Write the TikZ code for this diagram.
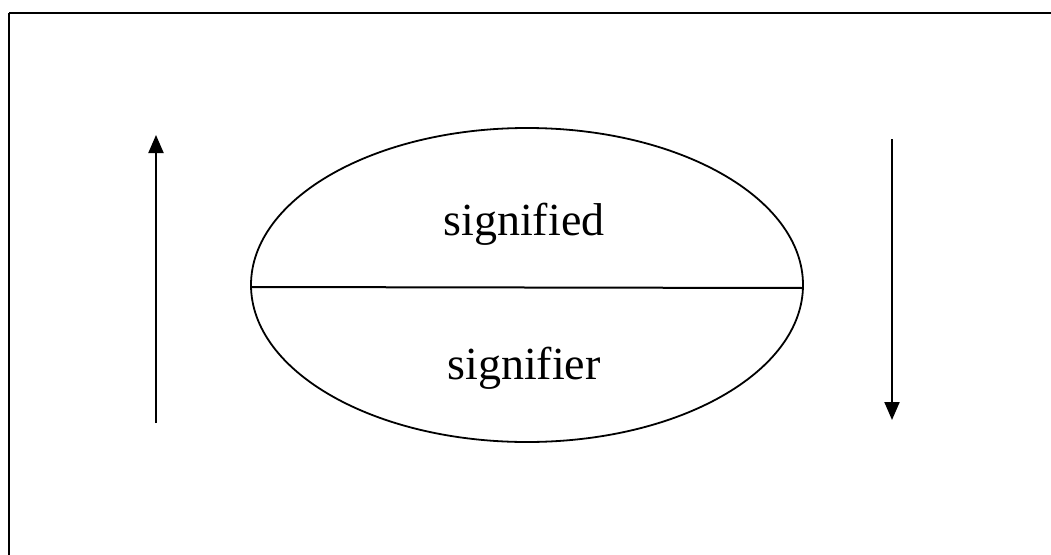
\documentclass[tikz,border=0pt]{standalone}
\usepackage{fontspec}
\setmainfont{Liberation Serif}
\usetikzlibrary{arrows.meta,shapes.geometric}
\tikzset{
  line/.style={draw=black, line width=2pt},
  arr/.style={line, -{Triangle[length=18pt,width=15pt]}},
  lbl/.style={font=\fontsize{46}{52}\selectfont, inner sep=0pt, anchor=base}
}
\begin{document}
\begin{tikzpicture}[x=1pt,y=-1pt]
\useasboundingbox (0,0) rectangle (1051,554);
\draw[line] (9,13) -- (1060,13);
\draw[line] (9,13) -- (9,560);
\node[draw=black, line width=1.8pt, ellipse, minimum width=552pt, minimum height=314pt, inner sep=0pt] (e) at (527,285) {};
\draw[line] ([yshift=-2pt]e.west) -- ([yshift=-3pt]e.east);
\node[lbl] (sd) at (524,235) {signified};
\node[lbl] (sr) at (524,379) {signifier};
\coordinate (la) at (156,423);
\coordinate (lb) at (156,135);
\coordinate (ra) at (892,139);
\coordinate (rb) at (892,420);
\draw[arr] (la) -- (lb);
\draw[arr] (ra) -- (rb);
\end{tikzpicture}
\end{document}
